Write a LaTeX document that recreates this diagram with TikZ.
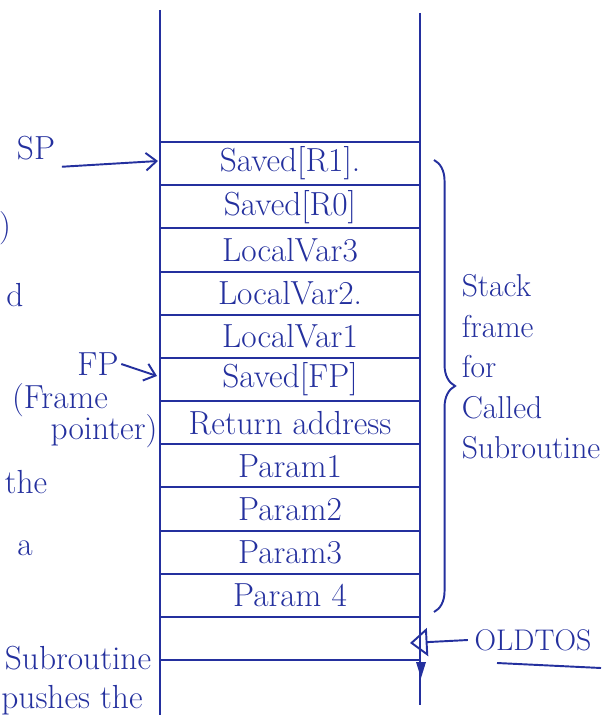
\documentclass[tikz,border=0pt]{standalone}
\usetikzlibrary{arrows.meta,decorations.pathreplacing}
\definecolor{ink}{RGB}{36,48,158}
\begin{document}
\begin{tikzpicture}[x=0.02cm,y=-0.02cm,line width=1.1pt,
  every node/.style={text=ink,font=\fontsize{19}{23}\selectfont},
  cell/.style={draw=ink,minimum width=5.2cm,minimum height=0.864cm,inner sep=0pt},
  ptr/.style={draw=ink,-{Straight Barb[length=6pt,width=10pt]}}]
\useasboundingbox (0,0) rectangle (601,715);
\draw [ink] (160,10) -- (160,715) (420,13) -- (420,705);
\fill [ink] (416,662) -- (426,662) -- (421,678) -- cycle;
% the frame, top of stack first
\node [cell] (r1) at (290,163.6) {Saved[R1].};
\node [cell] (r2) at (290,206.8) {Saved[R0]};
\node [cell] (r3) at (290,250.0) {LocalVar3};
\node [cell] (r4) at (290,293.1) {LocalVar2.};
\node [cell] (r5) at (290,336.3) {LocalVar1};
\node [cell] (r6) at (290,379.5) {Saved[FP]};
\node [cell] (r7) at (290,422.7) {Return address};
\node [cell] (r8) at (290,465.8) {Param1};
\node [cell] (r9) at (290,509.0) {Param2};
\node [cell] (r10) at (290,552.2) {Param3};
\node [cell] (r11) at (290,595.4) {Param 4};
\node [cell] (r12) at (290,638.6) {};
% pointers
\node (sp) at (36,148) {SP};
\coordinate (spt) at (158,161);
\draw [ptr] (sp.south east) -- (spt);
\node [inner sep=1pt] (fp) at (98,364) {FP};
\coordinate (fpt) at (157,376);
\draw [ptr] (fp.east) -- (fpt);
\node [inner sep=0pt] (fpa) at (60,400) {(Frame};
\node [inner sep=0pt] (fpb) at (104,431) {pointer)};
\node [font=\fontsize{17}{20}\selectfont] (tos) at (533,640) {OLDTOS};
\coordinate (tost) at (410,643);
\draw [ink,-{Triangle[open,length=10pt,width=16pt]}] (tos.west) -- (tost);
\draw [ink] (497,663) -- (601,668);
% brace and its label
\draw [ink,decorate,decoration={brace,amplitude=12pt}] (434,160) -- (434,612);
\node [anchor=north west,align=left,font=\fontsize{18}{23}\selectfont] (lbl) at (455,268)
  {Stack\\frame\\for\\Called\\Subroutine};
% text of the page round the figure
\node (rp) at (5,228) {)};
\node (dch) at (15,295) {d};
\node (the) at (26,482) {the};
\node (ach) at (25,548) {a};
\node (subr) at (78,658) {Subroutine};
\node (push) at (72,700) {pushes the};
\end{tikzpicture}
\end{document}
